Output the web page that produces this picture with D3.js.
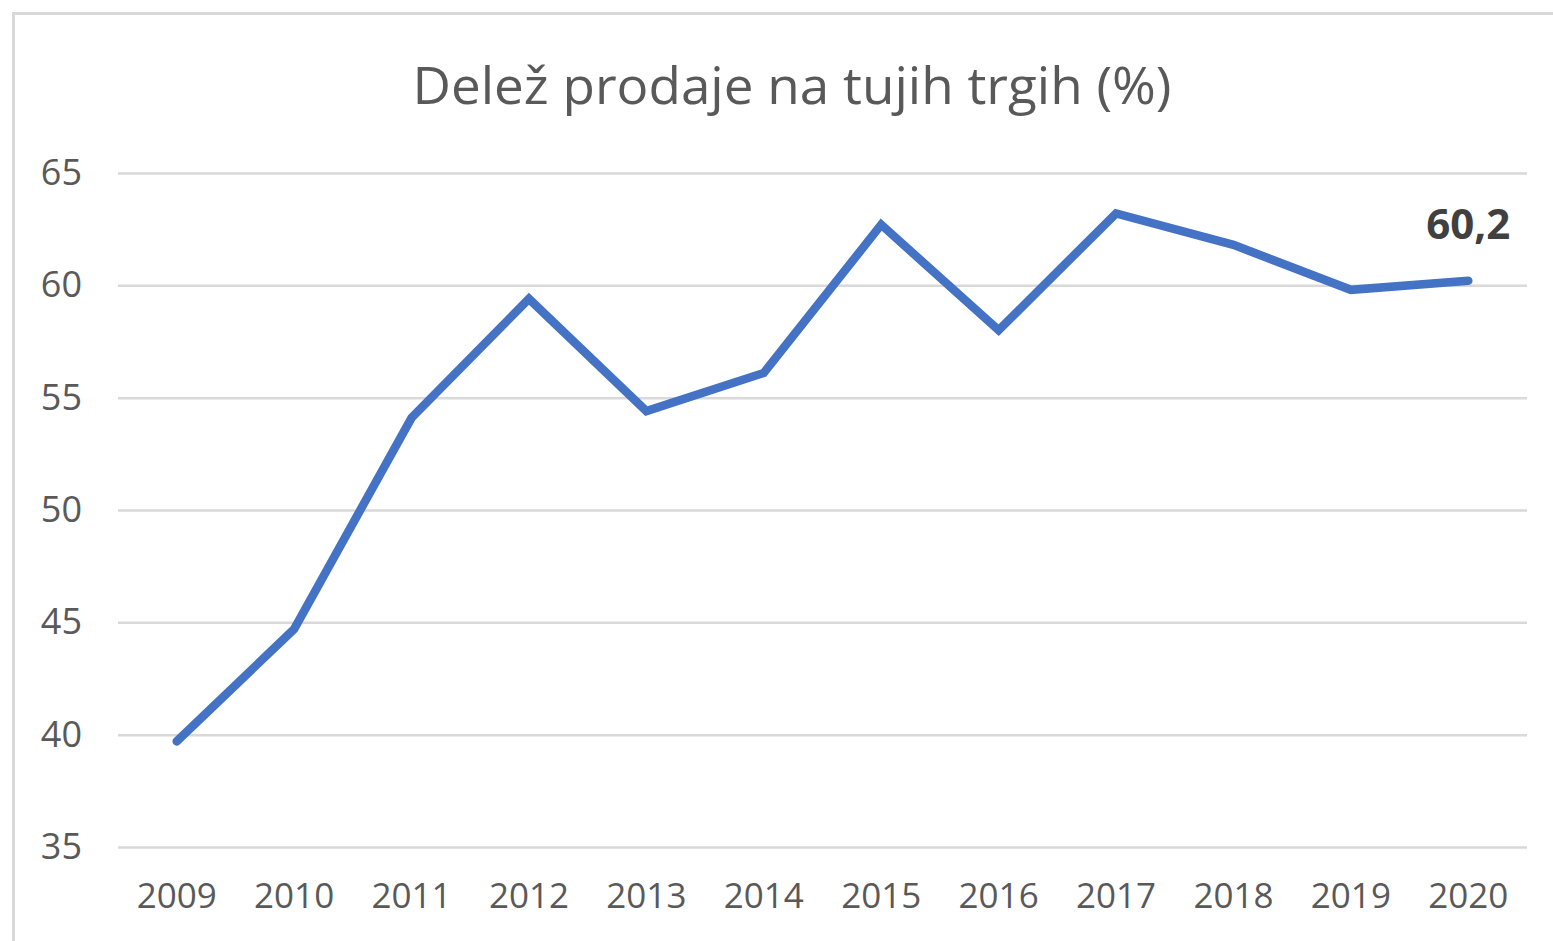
<!DOCTYPE html>
<html>
<head>
<meta charset="utf-8">
<script src="https://cdn.jsdelivr.net/npm/d3@7"></script>
<style>
  html, body { margin: 0; padding: 0; background: #fff; }
  svg text { font-family: "Open Sans", "Noto Sans", sans-serif; }
</style>
</head>
<body>
<div id="chart"></div>
<script>
// data
var years = ["2009", "2010", "2011", "2012", "2013", "2014", "2015", "2016", "2017", "2018", "2019", "2020"];
var share = [39.7, 44.7, 54.1, 59.4, 54.4, 56.1, 62.7, 58.0, 63.2, 61.8, 59.8, 60.2];
var yTicks = [35, 40, 45, 50, 55, 60, 65];
var chartTitle = "Delež prodaje na tujih trgih (%)";
var lastLabel = "60,2";

var svgWidth = 1553;
var svgHeight = 941;

var margin = { top: 173, right: 26, bottom: 94, left: 118 };
var width = svgWidth - margin.left - margin.right;
var height = svgHeight - margin.top - margin.bottom;

var svg = d3.select("#chart")
  .append("svg")
  .attr("width", svgWidth)
  .attr("height", svgHeight);

// chart frame
svg.append("rect")
  .attr("x", 13.5)
  .attr("y", 13.5)
  .attr("width", svgWidth + 20)
  .attr("height", svgHeight + 20)
  .attr("fill", "none")
  .attr("stroke", "#d9d9d9")
  .attr("stroke-width", 3);

var chartGroup = svg.append("g")
  .attr("transform", `translate(${margin.left}, ${margin.top})`);

// scales
var xScale = d3.scaleBand()
  .domain(years)
  .range([0, width]);

var yScale = d3.scaleLinear()
  .domain([35, 65])
  .range([height, 0]);

// gridlines + y labels
var leftAxis = d3.axisLeft(yScale)
  .tickValues(yTicks)
  .tickSize(-width)
  .tickPadding(36)
  .tickFormat(d3.format("d"));

var yAxis = chartGroup.append("g").call(leftAxis);
yAxis.select(".domain").remove();
yAxis.selectAll("line")
  .attr("stroke", "#d9d9d9")
  .attr("stroke-width", 2.5);
yAxis.selectAll("text")
  .attr("fill", "#595959")
  .attr("font-size", "36px")
  .attr("dy", "0.32em");

// x labels
var bottomAxis = d3.axisBottom(xScale).tickSize(0).tickPadding(36);
var xAxis = chartGroup.append("g")
  .attr("transform", `translate(0, ${height})`)
  .call(bottomAxis);
xAxis.select(".domain").remove();
xAxis.selectAll("text")
  .attr("fill", "#595959")
  .attr("font-size", "35px");

// line
var line = d3.line()
  .x((d, i) => xScale(years[i]) + xScale.bandwidth() / 2)
  .y(d => yScale(d));

chartGroup.append("path")
  .datum(share)
  .attr("d", line)
  .attr("fill", "none")
  .attr("stroke", "#4472c4")
  .attr("stroke-width", 8.5)
  .attr("stroke-linejoin", "miter")
  .attr("stroke-linecap", "round");

// label on last point
var lastIdx = share.length - 1;
chartGroup.append("text")
  .attr("x", xScale(years[lastIdx]) + xScale.bandwidth() / 2)
  .attr("y", yScale(share[lastIdx]) - 42)
  .attr("text-anchor", "middle")
  .attr("font-size", "42px")
  .attr("font-weight", "bold")
  .attr("fill", "#404040")
  .text(lastLabel);

// title
svg.append("text")
  .attr("x", 792)
  .attr("y", 104)
  .attr("text-anchor", "middle")
  .attr("font-size", "52px")
  .attr("fill", "#595959")
  .attr("textLength", 759)
  .attr("lengthAdjust", "spacingAndGlyphs")
  .text(chartTitle);
</script>
</body>
</html>
